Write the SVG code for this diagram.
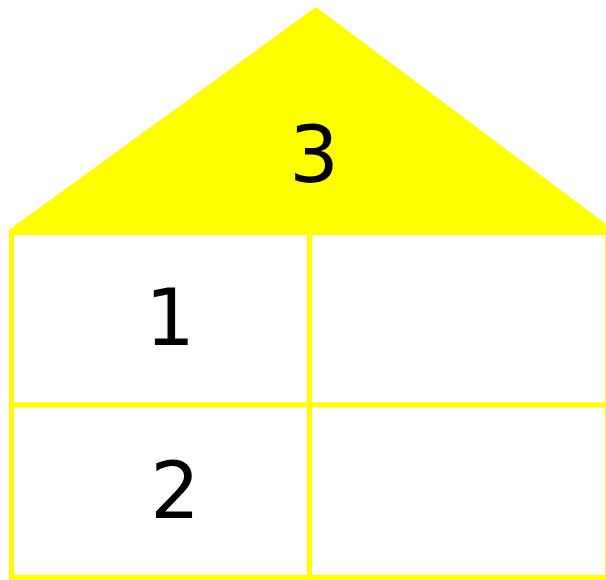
<svg xmlns="http://www.w3.org/2000/svg" width="606" height="580" viewBox="0 0 606 580">
<style>
.ln{stroke:#ffff00;stroke-width:5;fill:none}
.t{font-family:"DejaVu Sans",sans-serif;font-size:78px;fill:#000;text-anchor:middle}
</style>
<rect width="606" height="580" fill="#fff"/>
<g id="roof">
<polygon points="9,230 316,7 614,230" fill="#ffff00"/>
<text class="t" x="314" y="182">3</text>
</g>
<g id="grid">
<rect class="ln" x="11.5" y="232.5" width="596" height="345"/>
<line class="ln" x1="309.5" y1="232" x2="309.5" y2="578"/>
<line class="ln" x1="11" y1="405" x2="606" y2="405"/>
</g>
<g id="cell1"><text class="t" x="170" y="345">1</text></g>
<g id="cell2"><text class="t" x="175" y="518">2</text></g>
</svg>
